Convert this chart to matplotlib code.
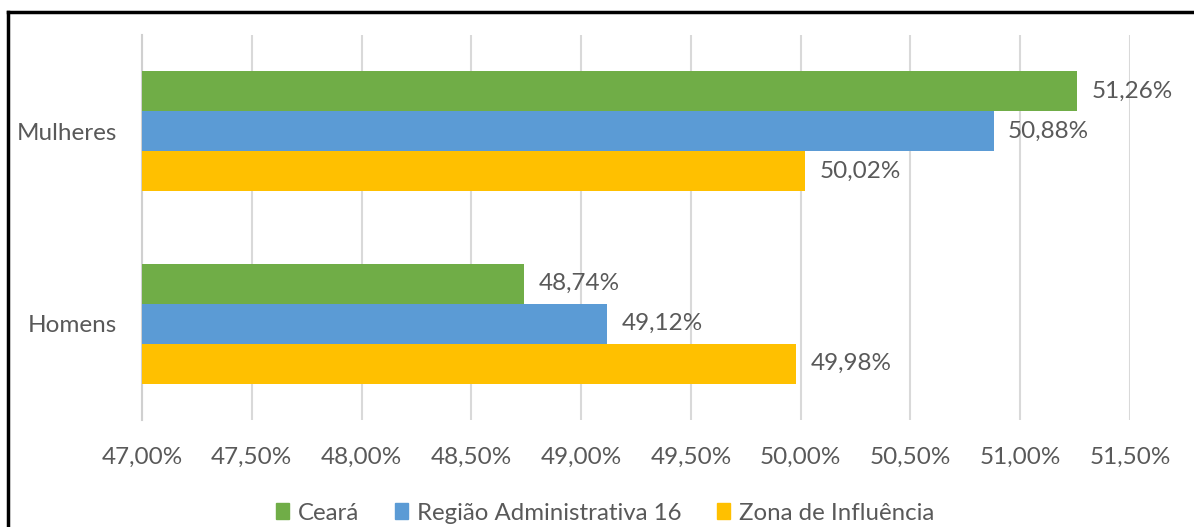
import matplotlib
matplotlib.use("Agg")
import matplotlib.pyplot as plt
from matplotlib.lines import Line2D
import numpy as np

categories = ["Homens", "Mulheres"]
series_names = ["Ceará", "Região Administrativa 16", "Zona de Influência"]
ceara = [48.74, 51.26]
regiao16 = [49.12, 50.88]
zona = [49.98, 50.02]
xticks = [47.0, 47.5, 48.0, 48.5, 49.0, 49.5, 50.0, 50.5, 51.0, 51.5]

colors = ["#70AD47", "#5B9BD5", "#FFC000"]
text_gray = "#595959"
plt.rcParams['font.family'] = ['Lato', 'DejaVu Sans']

fig = plt.figure(figsize=(11.94, 5.27), dpi=100)
ax = fig.add_axes([142/1194, 1-420/527, (1130-142)/1194, (420-35)/527])

h = 0.208
y = np.arange(len(categories))
offsets = [h, 0, -h]
for vals, off, c in zip([ceara, regiao16, zona], offsets, colors):
    ax.barh(y + off, [v - 47.0 for v in vals], left=47.0, height=h, color=c, zorder=3)
    for yy, v in zip(y + off, vals):
        ax.text(v + 0.065, yy, f"{v:.2f}%".replace(".", ","), va="center", ha="left",
                fontsize=17.5, color=text_gray, zorder=4)

ax.set_xlim(47.0, 51.5)
ax.set_ylim(-0.5, 1.5)
ax.set_xticks(xticks)
ax.set_xticklabels([f"{t:.2f}%".replace(".", ",") for t in xticks])
ax.set_yticks(y)
ax.set_yticklabels(categories)
ax.tick_params(axis="x", length=0, pad=19, labelsize=17.5, labelcolor=text_gray)
ax.tick_params(axis="y", length=0, pad=18, labelsize=17.5, labelcolor=text_gray)
ax.grid(axis="x", color="#D9D9D9", linewidth=1.5, zorder=0)
for s in ["top", "right", "bottom"]:
    ax.spines[s].set_visible(False)
ax.spines["left"].set_color("#D0D0D0")
ax.spines["left"].set_linewidth(1.5)

handles = [plt.Rectangle((0, 0), 1, 1, color=c) for c in colors]
fig.legend(handles, series_names, loc="center", bbox_to_anchor=(605/1194, 1-513/527),
           ncol=3, frameon=False, fontsize=17.3, labelcolor=text_gray,
           handlelength=0.55, handleheight=0.6, handletextpad=0.35, columnspacing=1.5)

# outer frame (partially cropped)
fig.add_artist(Line2D([8/1194, 1.0], [1-12/527, 1-12/527], color="black", linewidth=2.5,
                      transform=fig.transFigure))
fig.add_artist(Line2D([8/1194, 8/1194], [0.0, 1-12/527], color="black", linewidth=2.5,
                      transform=fig.transFigure))

fig.savefig("out.png", dpi=100)
